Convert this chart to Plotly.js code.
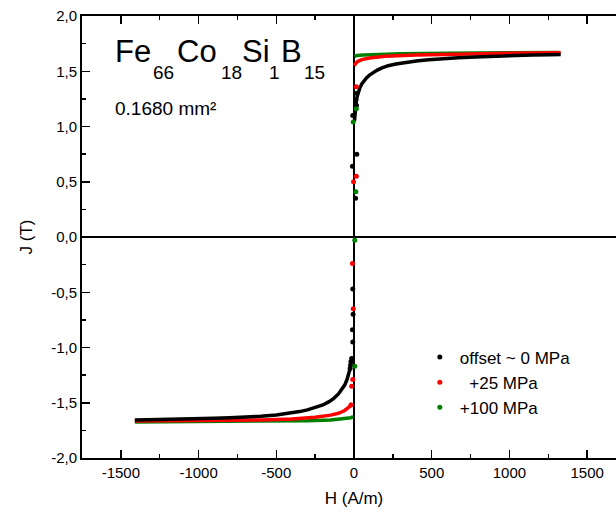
<!DOCTYPE html>
<html>
<head>
<meta charset="utf-8">
<script src="https://cdn.plot.ly/plotly-3.0.1.min.js"></script>
<style>
html,body{margin:0;padding:0;overflow:hidden;background:#fff;}
#chart{width:640px;height:515px;}
</style>
</head>
<body>
<div id="chart"></div>
<script>
// ---- data ----
var seriesNames = ["offset ~ 0 MPa", "\u00a0\u00a0+25 MPa", "+100 MPa"];
var seriesColors = ["#000000", "#ff0000", "#008000"];

// offset ~ 0 MPa : lower branch, upper branch, isolated switching points
var blackLowH = [-1410, -1300, -1200, -1100, -1000, -900, -800, -700, -600, -500, -420, -350, -300, -250, -200, -160, -130, -100, -80, -60, -45, -35, -25];
var blackLowJ = [-1.655, -1.653, -1.651, -1.648, -1.645, -1.641, -1.636, -1.630, -1.622, -1.610, -1.597, -1.580, -1.565, -1.545, -1.520, -1.490, -1.460, -1.420, -1.385, -1.340, -1.290, -1.240, -1.190];
var blackUpH = [3, 8, 14, 20, 28, 38, 50, 65, 80, 100, 125, 150, 180, 220, 270, 330, 400, 480, 570, 670, 780, 900, 1020, 1150, 1260, 1330];
var blackUpJ = [1.05, 1.15, 1.22, 1.27, 1.31, 1.35, 1.385, 1.415, 1.44, 1.465, 1.49, 1.51, 1.53, 1.55, 1.565, 1.58, 1.593, 1.605, 1.615, 1.623, 1.63, 1.637, 1.642, 1.647, 1.65, 1.652];
var blackPtH = [18, 12, 16, -8, 18, -10, 10, -8, -6, -10, -8, -20, -15, -22, -25];
var blackPtJ = [1.30, 1.24, 1.19, 1.10, 0.75, 0.64, 0.35, -0.47, -0.70, -0.84, -0.95, -1.13, -1.10, -1.16, -1.19];

// +25 MPa
var redLowH = [-1410, -1200, -1000, -800, -600, -400, -250, -150, -100, -60, -35, -20, -10];
var redLowJ = [-1.665, -1.663, -1.661, -1.658, -1.655, -1.646, -1.632, -1.612, -1.595, -1.570, -1.545, -1.525, -1.505];
var redUpH = [3, 10, 25, 50, 100, 200, 400, 700, 1000, 1330];
var redUpJ = [1.55, 1.57, 1.59, 1.605, 1.62, 1.635, 1.648, 1.657, 1.662, 1.668];
var redPtH = [15, 15, -3, -10, -5, -8, -15, -20];
var redPtJ = [1.36, 0.55, 0.50, -0.24, -0.65, -1.29, -1.35, -1.52];

// +100 MPa
var greenLowH = [-1410, -1000, -600, -300, -150, -60, -20, -5];
var greenLowJ = [-1.675, -1.672, -1.668, -1.662, -1.655, -1.645, -1.635, -1.625];
var greenUpH = [3, 20, 60, 150, 300, 600, 1000, 1320];
var greenUpJ = [1.635, 1.643, 1.648, 1.653, 1.658, 1.663, 1.667, 1.670];
var greenPtH = [15, -5, 12, 5, 5];
var greenPtJ = [1.16, 1.04, 0.41, -0.03, -1.17];

var xTickVals = [-1500, -1000, -500, 0, 500, 1000, 1500];
var xTickText = ["-1500", "-1000", "-500", "0", "500", "1000", "1500"];
var yTickVals = [-2, -1.5, -1, -0.5, 0, 0.5, 1, 1.5, 2];
var yTickText = ["-2,0", "-1,5", "-1,0", "-0,5", "0,0", "0,5", "1,0", "1,5", "2,0"];

// ---- build traces ----
var lows = [[blackLowH, blackLowJ], [redLowH, redLowJ], [greenLowH, greenLowJ]];
var ups = [[blackUpH, blackUpJ], [redUpH, redUpJ], [greenUpH, greenUpJ]];
var pts = [[blackPtH, blackPtJ], [redPtH, redPtJ], [greenPtH, greenPtJ]];

var traces = [];
var order = [2, 1, 0];
order.forEach(function (i) {
  traces.push({
    x: lows[i][0].concat([null]).concat(ups[i][0]),
    y: lows[i][1].concat([null]).concat(ups[i][1]),
    type: "scatter", mode: "lines",
    line: {color: seriesColors[i], width: 3.5},
    connectgaps: false, showlegend: false, hoverinfo: "skip"
  });
});
[0, 1, 2].forEach(function (i) {
  traces.push({
    x: pts[i][0], y: pts[i][1],
    type: "scatter", mode: "markers",
    name: seriesNames[i],
    marker: {color: seriesColors[i], size: 5},
    showlegend: true
  });
});

var FONT = "Arial, 'Liberation Sans', sans-serif";
function piece(txt, xp, yp, size) {
  return {xref: "paper", yref: "paper", x: xp, y: yp, xanchor: "left", yanchor: "middle",
          text: txt, showarrow: false, font: {family: FONT, size: size, color: "#000"}};
}
var yMain = 0.9186, ySub = 0.8733;
var layout = {
  width: 640, height: 515,
  margin: {l: 82, r: 14, t: 16, b: 57},
  paper_bgcolor: "#fff", plot_bgcolor: "#fff",
  font: {family: FONT, size: 15, color: "#000"},
  showlegend: true,
  legend: {
    x: 0.621, y: 0.268, xanchor: "left", yanchor: "top",
    bgcolor: "rgba(0,0,0,0)", borderwidth: 0,
    font: {family: FONT, size: 17, color: "#000"},
    traceorder: "normal"
  },
  xaxis: {
    range: [-1750, 1750],
    tickvals: xTickVals, ticktext: xTickText,
    ticks: "inside", ticklen: 8, tickwidth: 1.5, tickcolor: "#000",
    minor: {dtick: 250, tick0: 0, ticks: "inside", ticklen: 4, tickwidth: 1.5, tickcolor: "#000", showgrid: false},
    showline: true, linecolor: "#000", linewidth: 2, mirror: "ticks",
    showgrid: false, zeroline: true, zerolinecolor: "#000", zerolinewidth: 2,
    tickfont: {family: FONT, size: 15, color: "#000"},
    title: {text: "H (A/m)", font: {family: FONT, size: 17, color: "#000"}, standoff: 12}
  },
  yaxis: {
    range: [-2, 2],
    tickvals: yTickVals, ticktext: yTickText,
    ticks: "inside", ticklen: 8, tickwidth: 1.5, tickcolor: "#000",
    minor: {dtick: 0.25, tick0: 0, ticks: "inside", ticklen: 4, tickwidth: 1.5, tickcolor: "#000", showgrid: false},
    showline: true, linecolor: "#000", linewidth: 2, mirror: "ticks",
    showgrid: false, zeroline: true, zerolinecolor: "#000", zerolinewidth: 2,
    tickfont: {family: FONT, size: 15, color: "#000"},
    title: {text: "J (T)", font: {family: FONT, size: 17, color: "#000"}, standoff: 14}
  },
  annotations: [
    piece("Fe", 0.0570, yMain, 31),
    piece("66", 0.1270, ySub, 19),
    piece("Co", 0.1710, yMain, 31),
    piece("18", 0.2520, ySub, 19),
    piece("Si", 0.2905, yMain, 31),
    piece("1", 0.3400, ySub, 19),
    piece("B", 0.3620, yMain, 31),
    piece("15", 0.4045, ySub, 19),
    piece("0.1680 mm\u00b2", 0.057, 0.790, 19)
  ]
};

Plotly.newPlot("chart", traces, layout, {displayModeBar: false, staticPlot: true});
</script>
</body>
</html>
